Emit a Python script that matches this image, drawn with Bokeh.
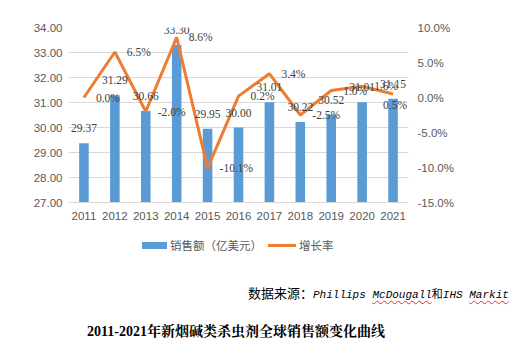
from bokeh.plotting import figure
from bokeh.layouts import column
from bokeh.models import (ColumnDataSource, Range1d, LinearAxis, FactorRange, LabelSet, Div,
                          NumeralTickFormatter, PrintfTickFormatter, FixedTicker)
from bokeh.embed import file_html
from bokeh.resources import INLINE

years = ["2011", "2012", "2013", "2014", "2015", "2016", "2017", "2018", "2019", "2020", "2021"]
sales = [29.37, 31.29, 30.66, 33.30, 29.95, 30.00, 31.01, 30.22, 30.52, 31.01, 31.15]
growth = [0.0, 6.5, -2.0, 8.6, -10.1, 0.2, 3.4, -2.5, 1.0, 1.6, 0.5]
sales_labels = ["%.2f" % v for v in sales]
growth_labels = ["%.1f%%" % v for v in growth]
series_names = ["销售额（亿美元）", "增长率"]
source_note = ["数据来源：", "Phillips ", "McDougall", "和", "IHS ", "Markit"]
caption = ["2011-2021", "年新烟碱类杀虫剂全球销售额变化曲线"]

BLUE = "#5b9bd5"
ORANGE = "#ed7d31"
AXIS_TXT = "#595959"
LBL_TXT = "#404040"
NUM_FONT = "Liberation Sans"
CJK_FONT = "Noto Sans CJK SC"

src = ColumnDataSource(dict(year=years, sales=sales, growth=growth,
                            sl=sales_labels, gl=growth_labels))
n = len(years)
src_main = ColumnDataSource({k: v[:n - 1] for k, v in src.data.items()})
src_last = ColumnDataSource({k: v[n - 1:] for k, v in src.data.items()})

p = figure(width=530, height=230, x_range=FactorRange(*years), y_range=Range1d(27, 34),
           output_backend="svg", toolbar_location=None,
           min_border_left=68, min_border_right=122, min_border_top=27, min_border_bottom=28)
p.outline_line_color = None
p.background_fill_color = "white"
p.border_fill_color = "white"
p.extra_y_ranges = {"pct": Range1d(-15, 10)}

p.yaxis.ticker = FixedTicker(ticks=[27, 28, 29, 30, 31, 32, 33, 34])
p.yaxis.formatter = NumeralTickFormatter(format="0.00")
rax = LinearAxis(y_range_name="pct", ticker=FixedTicker(ticks=[-15, -10, -5, 0, 5, 10]),
                 formatter=PrintfTickFormatter(format="%.1f%%"))
p.add_layout(rax, "right")
for ax in [p.yaxis[0], p.xaxis[0], rax]:
    ax.major_tick_line_color = None
    ax.minor_tick_line_color = None
    ax.major_tick_out = 0
    ax.major_tick_in = 0
    ax.minor_tick_out = 0
    ax.minor_tick_in = 0
    ax.major_label_text_font = NUM_FONT
    ax.major_label_text_font_size = "11.5px"
    ax.major_label_text_color = AXIS_TXT
p.yaxis[0].axis_line_color = None
p.yaxis[0].major_label_standoff = 6
rax.axis_line_color = None
rax.major_label_standoff = 9
p.xaxis.axis_line_color = "#d9d9d9"
p.xaxis.major_label_standoff = 9

p.xgrid.grid_line_color = None
p.ygrid.grid_line_color = "#d9d9d9"
p.ygrid.grid_line_width = 1

bars = p.vbar(x="year", top="sales", bottom=27, width=0.31, source=src,
              fill_color=BLUE, line_color=None)
line = p.line(x="year", y="growth", source=src, y_range_name="pct",
              line_color=ORANGE, line_width=3)

p.add_layout(LabelSet(x="year", y="sales", text="sl", source=src, text_align="center",
                      text_baseline="middle", y_offset=15, text_font=NUM_FONT,
                      text_font_size="11.5px", text_color=LBL_TXT))
p.add_layout(LabelSet(x="year", y="growth", text="gl", source=src_main, y_range_name="pct",
                      text_align="left", text_baseline="middle", x_offset=12,
                      text_font=NUM_FONT, text_font_size="11.5px", text_color=LBL_TXT))
# last growth label would overflow the plot area: keep it inside, just below the line end
p.add_layout(LabelSet(x="year", y="growth", text="gl", source=src_last, y_range_name="pct",
                      text_align="right", text_baseline="middle", x_offset=14, y_offset=-11,
                      text_font=NUM_FONT, text_font_size="11.5px", text_color=LBL_TXT))

# footer: legend, source note and caption (HTML, placed below the chart)
wavy = "text-decoration:underline wavy #e03030;text-decoration-thickness:1px;text-underline-offset:2px;"
mono = "font-family:'Liberation Mono';font-style:italic;font-size:11px;"
html = f"""
<div style="position:relative;width:530px;height:125px;margin:0;padding:0;background:white;">
  <div style="position:absolute;left:142px;top:11.5px;width:25px;height:7px;background:{BLUE};"></div>
  <div style="position:absolute;left:170px;top:7px;font-family:'{CJK_FONT}';font-size:11.5px;line-height:16px;color:{AXIS_TXT};white-space:nowrap;">{series_names[0]}</div>
  <div style="position:absolute;left:268px;top:13.5px;width:28px;height:3px;background:{ORANGE};"></div>
  <div style="position:absolute;left:299px;top:7px;font-family:'{CJK_FONT}';font-size:11.5px;line-height:16px;color:{AXIS_TXT};white-space:nowrap;">{series_names[1]}</div>
  <div style="position:absolute;left:248px;top:54px;line-height:18px;color:black;white-space:nowrap;">
    <span style="font-family:'{CJK_FONT}';font-size:13px;">{source_note[0]}</span><span style="{mono}">{source_note[1]}</span><span style="{mono}{wavy}">{source_note[2]}</span><span style="font-family:'{CJK_FONT}';font-size:11px;">{source_note[3]}</span><span style="{mono}">{source_note[4]}</span><span style="{mono}{wavy}">{source_note[5]}</span>
  </div>
  <div style="position:absolute;left:87px;top:90px;line-height:20px;color:black;font-weight:bold;font-size:14px;white-space:nowrap;">
    <span style="font-family:'Liberation Serif';">{caption[0]}</span><span style="font-family:'Noto Serif CJK SC','{CJK_FONT}';">{caption[1]}</span>
  </div>
</div>
"""
footer = Div(text=html, width=530, height=125, margin=0)

layout = column(p, footer, spacing=0)
open("out.html", "w").write(file_html(layout, INLINE))
